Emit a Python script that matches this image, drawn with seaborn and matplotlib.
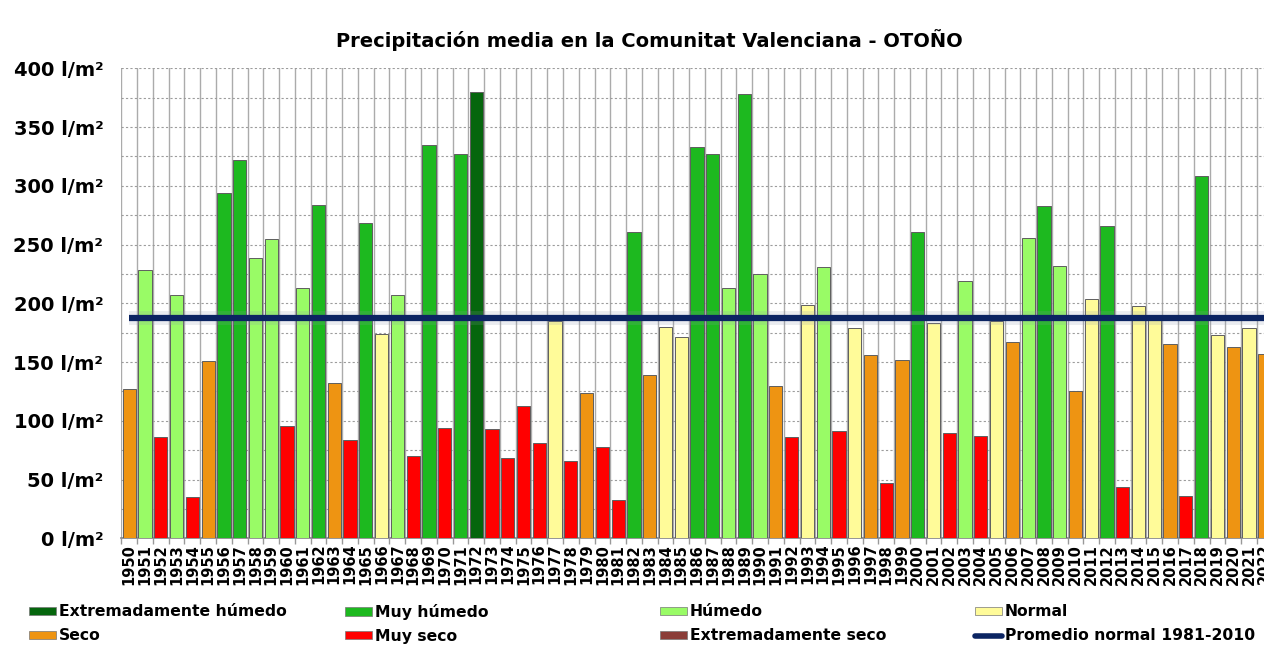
import numpy as np
import pandas as pd
import seaborn as sns
import matplotlib.pyplot as plt
from matplotlib.patches import Patch
from matplotlib.lines import Line2D
from matplotlib.ticker import MultipleLocator

years = list(range(1950, 2023))
precip = [127, 228, 86, 207, 35, 151, 294, 322, 239, 255,
          96, 213, 284, 132, 84, 268, 174, 207, 70, 335,
          94, 327, 380, 93, 68, 113, 81, 185, 66, 124,
          78, 33, 261, 139, 180, 171, 333, 327, 213, 378,
          225, 130, 86, 199, 231, 91, 179, 156, 47, 152,
          261, 183, 90, 219, 87, 185, 167, 256, 283, 232,
          125, 204, 266, 44, 198, 186, 165, 36, 308, 173,
          163, 179, 157]
category = ["Seco", "Húmedo", "Muy seco", "Húmedo", "Muy seco", "Seco", "Muy húmedo", "Muy húmedo", "Húmedo", "Húmedo",
            "Muy seco", "Húmedo", "Muy húmedo", "Seco", "Muy seco", "Muy húmedo", "Normal", "Húmedo", "Muy seco", "Muy húmedo",
            "Muy seco", "Muy húmedo", "Extremadamente húmedo", "Muy seco", "Muy seco", "Muy seco", "Muy seco", "Normal", "Muy seco", "Seco",
            "Muy seco", "Muy seco", "Muy húmedo", "Seco", "Normal", "Normal", "Muy húmedo", "Muy húmedo", "Húmedo", "Muy húmedo",
            "Húmedo", "Seco", "Muy seco", "Normal", "Húmedo", "Muy seco", "Normal", "Seco", "Muy seco", "Seco",
            "Muy húmedo", "Normal", "Muy seco", "Húmedo", "Muy seco", "Normal", "Seco", "Húmedo", "Muy húmedo", "Húmedo",
            "Seco", "Normal", "Muy húmedo", "Muy seco", "Normal", "Normal", "Seco", "Muy seco", "Muy húmedo", "Normal",
            "Seco", "Normal", "Seco"]
promedio = 187.5

colores = {
    "Extremadamente húmedo": "#05660d",
    "Muy húmedo": "#1db91f",
    "Húmedo": "#99fb66",
    "Normal": "#fffb99",
    "Seco": "#ee9412",
    "Muy seco": "#ff0000",
    "Extremadamente seco": "#8b3d38",
}
linea_color = "#0b2462"
linea_label = "Promedio normal 1981-2010"

df = pd.DataFrame({"year": [str(y) for y in years], "precip": precip, "cat": category})

sns.set_theme(style="white", rc={"text.color": "black", "xtick.color": "black", "ytick.color": "black"})
plt.rcParams["font.family"] = ["DejaVu Sans"]

n = len(years)
slot = 15.77          # px per year
left_px = 121.4
fig = plt.figure(figsize=(12.64, 6.51), dpi=100)
# the plot area runs a little past the right edge of the image, as in the original
ax = fig.add_axes([left_px / 1264, 0.1731, n * slot / 1264, 0.7219])

sns.barplot(data=df, x="year", y="precip", hue="cat", palette=colores, dodge=False, saturation=1,
            width=0.84, edgecolor="#5e5e5e", linewidth=0.7, legend=False, ax=ax, zorder=3)

ax.plot([0, n], [promedio, promedio], color="#8d97ad", lw=10, alpha=0.18, zorder=4, solid_capstyle="butt")
ax.plot([0, n], [promedio, promedio], color=linea_color, lw=4.5, zorder=5, solid_capstyle="butt")

ax.set_xlim(-0.5, n - 0.5)
ax.set_ylim(0, 400)
ax.yaxis.set_minor_locator(MultipleLocator(25))
ax.set_yticks(range(0, 401, 50))
ax.set_yticklabels([f"{v} l/m²" for v in range(0, 401, 50)], fontsize=14, fontweight="bold")
ax.set_xticks(range(n))
ax.set_xticklabels(df["year"], rotation=90, fontsize=10.5, fontweight="bold")
ax.set_xticks(np.arange(n + 1) - 0.5, minor=True)

ax.grid(axis="x", which="minor", color="#ababab", lw=1, zorder=0)
ax.grid(axis="y", which="both", color="#9c9c9c", lw=0.8, ls=(0, (2, 2)), zorder=0)
ax.set_axisbelow(True)
ax.tick_params(axis="x", which="major", length=0, pad=4)
ax.tick_params(axis="x", which="minor", length=4, color="#999999", direction="out", bottom=True)
ax.tick_params(axis="y", which="both", length=0, pad=13)
ax.set_xlabel("")
ax.set_ylabel("")
for side in ["top", "right", "left"]:
    ax.spines[side].set_visible(False)
ax.spines["bottom"].set_color("#888888")

fig.text(0.514, 0.938, "Precipitación media en la Comunitat Valenciana - OTOÑO",
         ha="center", va="center", fontsize=14, fontweight="bold")

# leyenda: 4 columnas x 2 filas
filas = [
    ["Extremadamente húmedo", "Muy húmedo", "Húmedo", "Normal"],
    ["Seco", "Muy seco", "Extremadamente seco", linea_label],
]
xs = [29, 345, 660, 975]
ys = [612, 636]
for fila, y0 in zip(filas, ys):
    for name, x0 in zip(fila, xs):
        if name in colores:
            h = Patch(facecolor=colores[name], edgecolor="#777777", linewidth=0.5)
        else:
            h = Line2D([0], [0], color=linea_color, lw=4)
        fig.legend([h], [name], loc="center left", bbox_to_anchor=(x0 / 1264, 1 - y0 / 651),
                   frameon=False, handlelength=1.75, handleheight=0.45, handletextpad=0.15,
                   borderaxespad=0, borderpad=0, prop={"weight": "bold", "size": 11.25})

fig.savefig("out.png", dpi=100)
